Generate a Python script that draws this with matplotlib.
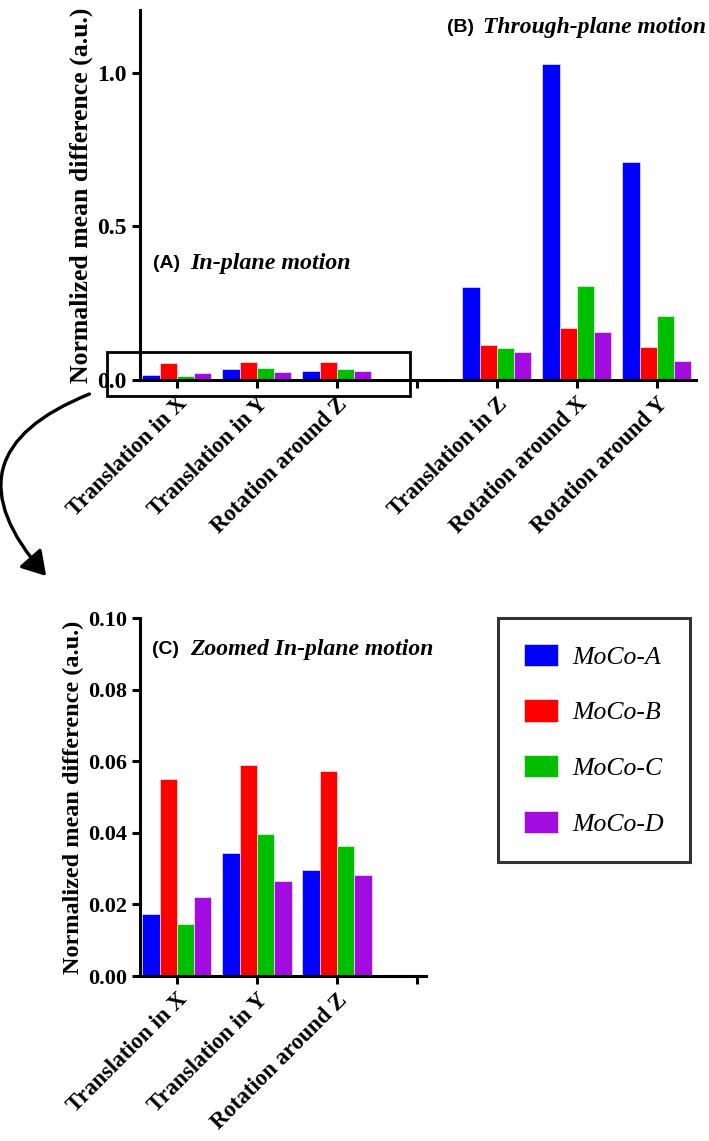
import matplotlib
matplotlib.use("Agg")
import matplotlib.pyplot as plt
import numpy as np
from matplotlib.patches import Rectangle, FancyArrowPatch

W, H = 709, 1141
series = ["MoCo-A", "MoCo-B", "MoCo-C", "MoCo-D"]
colors = ["#0000FF", "#FF0000", "#00BE00", "#A30CE0"]

inplane_cats = ["Translation in X", "Translation in Y", "Rotation around Z"]
throughplane_cats = ["Translation in Z", "Rotation around X", "Rotation around Y"]

inplane_A = [0.0172, 0.0344, 0.0296]
inplane_B = [0.0549, 0.0590, 0.0572]
inplane_C = [0.0146, 0.0396, 0.0362]
inplane_D = [0.0220, 0.0265, 0.0283]

through_A = [0.303, 1.028, 0.711]
through_B = [0.114, 0.168, 0.106]
through_C = [0.103, 0.306, 0.208]
through_D = [0.090, 0.155, 0.062]

top_ticks = [0.0, 0.5, 1.0]
bottom_ticks = [0.00, 0.02, 0.04, 0.06, 0.08, 0.10]

serif = "Liberation Serif"
sans = "Liberation Sans"

fig = plt.figure(figsize=(W/100, H/100), dpi=100)

def fx(px):
    return px / W

def fy(py):
    return 1 - py / H

def style_axes(ax, ticksize):
    for s in ["top", "right"]:
        ax.spines[s].set_visible(False)
    for s in ["left", "bottom"]:
        ax.spines[s].set_linewidth(2.2)
    ax.tick_params(axis="both", width=2.2, length=6, direction="out")
    for lab in ax.get_yticklabels():
        lab.set_fontfamily(serif)
        lab.set_fontweight("bold")
        lab.set_fontsize(ticksize)

bw = 0.216
offs = np.array([-1.5, -0.5, 0.5, 1.5]) * bw

# ---------- Top axes ----------
ax1 = fig.add_axes([fx(140), fy(380), fx(696) - fx(140), fy(10) - fy(380)])
top_pos_in = np.array([0, 1, 2])
top_pos_thr = np.array([4, 5, 6])
in_vals = [inplane_A, inplane_B, inplane_C, inplane_D]
thr_vals = [through_A, through_B, through_C, through_D]
for i in range(4):
    ax1.bar(top_pos_in + offs[i], in_vals[i], bw, color=colors[i], edgecolor="white", linewidth=0.4)
    ax1.bar(top_pos_thr + offs[i], thr_vals[i], bw, color=colors[i], edgecolor="white", linewidth=0.4)
ax1.set_xlim(-0.46, 6.49)
ax1.set_ylim(0, 1.205)
ax1.set_yticks(top_ticks)
ax1.set_yticklabels(["0.0", "0.5", "1.0"])
ax1.set_xticks(range(7))
ax1.set_xticklabels(inplane_cats + [""] + throughplane_cats, rotation=45, ha="right",
                    rotation_mode="anchor", fontfamily=serif, fontweight="bold", fontsize=16.5)
style_axes(ax1, 17)
ax1.set_ylabel("Normalized mean difference (a.u.)", fontfamily=serif, fontweight="bold",
               fontsize=18.5, labelpad=3)

# ---------- Bottom axes ----------
ax2 = fig.add_axes([fx(140), fy(976), fx(426) - fx(140), fy(618) - fy(976)])
pos2 = np.array([0, 1, 2])
for i in range(4):
    ax2.bar(pos2 + offs[i], in_vals[i], bw, color=colors[i], edgecolor="white", linewidth=0.4,
            label=series[i])
ax2.set_xlim(-0.46, 3.11)
ax2.set_ylim(0, 0.1)
ax2.set_yticks(bottom_ticks)
ax2.set_yticklabels(["0.00", "0.02", "0.04", "0.06", "0.08", "0.10"])
ax2.set_xticks(range(4))
ax2.set_xticklabels(inplane_cats + [""], rotation=45, ha="right", rotation_mode="anchor",
                    fontfamily=serif, fontweight="bold", fontsize=16.5)
style_axes(ax2, 16)
ax2.set_ylabel("Normalized mean difference (a.u.)", fontfamily=serif, fontweight="bold",
               fontsize=17.5, labelpad=3)

# ---------- Panel titles ----------
def panel_title(xp, yp, letter, txt, size_l, size_t, gap):
    fig.text(fx(xp), fy(yp), letter, fontfamily=sans, fontweight="bold", fontsize=size_l,
             ha="left", va="center")
    fig.text(fx(xp + gap), fy(yp), txt, fontfamily=serif, fontweight="bold", fontstyle="italic",
             fontsize=size_t, ha="left", va="center")

panel_title(153, 263, "(A)", "In-plane motion", 14, 17.3, 37)
panel_title(447, 27, "(B)", "Through-plane motion", 14, 17, 36)
panel_title(152, 650, "(C)", "Zoomed In-plane motion", 14, 17, 38)

# ---------- Zoom box and arrow ----------
box = Rectangle((fx(107), fy(396)), fx(410) - fx(107), fy(352) - fy(396), transform=fig.transFigure,
                fill=False, edgecolor="black", linewidth=2)
fig.add_artist(box)
arr = FancyArrowPatch((fx(92), fy(393)), (fx(48), fy(578)), transform=fig.transFigure,
                      connectionstyle="arc3,rad=0.72", arrowstyle="-|>,head_length=9,head_width=5.5",
                      linewidth=2.4, color="black", mutation_scale=1.6)
fig.add_artist(arr)

# ---------- Legend ----------
handles, labels = ax2.get_legend_handles_labels()
leg = fig.legend(handles, labels, loc="upper left",
                 bbox_to_anchor=(fx(498), fy(618)), bbox_transform=fig.transFigure,
                 borderaxespad=0,
                 prop={"family": serif, "style": "italic", "size": 18.5},
                 frameon=True, fancybox=False, edgecolor="black", handlelength=1.35, handleheight=0.95,
                 labelspacing=1.2, borderpad=1.0, handletextpad=0.55)
leg.get_frame().set_linewidth(2.2)

fig.savefig("out.png", dpi=100)
